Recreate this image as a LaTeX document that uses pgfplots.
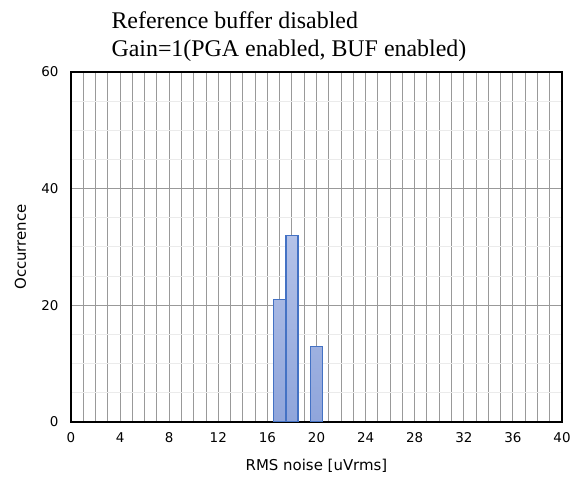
\documentclass[border=0pt]{standalone}
\usepackage{fontspec}
\setmainfont{Liberation Serif}
\newfontfamily\verd{DejaVu Sans}
\usepackage{pgfplots}
\pgfplotsset{compat=1.18}
\definecolor{barline}{HTML}{4472C4}
\definecolor{bartop}{HTML}{B4C2E8}
\definecolor{barbot}{HTML}{8FA5DB}
\begin{document}
\begin{tikzpicture}[x=1bp,y=1bp]
\path[use as bounding box] (-71,-59) rectangle (505,422);
\begin{axis}[
    at={(0,0)}, anchor=south west,
    scale only axis, width=491bp, height=350bp,
    xmin=0, xmax=40, ymin=0, ymax=60,
    xtick={0,4,...,40}, ytick={0,20,40,60},
    minor x tick num=3, minor y tick num=3,
    grid=both,
    major grid style={draw=black!40, line width=1bp},
    minor x grid style={draw=black!40, line width=1bp},
    minor y grid style={draw=black!8, line width=1bp},
    tick style={draw=none},
    axis line style={line width=1.1bp},
    /pgf/number format/assume math mode=true,
    ticklabel style={font=\verd\fontsize{13.5}{15}\selectfont},
    xticklabel style={yshift=-7bp},
    yticklabel style={xshift=-9bp},
    label style={font=\verd\fontsize{15}{18}\selectfont},
    xlabel={RMS noise [uVrms]},
    ylabel={Occurrence},
    xlabel style={at={(axis description cs:0.5,-0.126)}, anchor=center},
    ylabel style={at={(axis description cs:-0.103,0.5)}, anchor=center},
  ]
  \addplot[ybar, bar width=12bp, draw=barline, line width=1.3bp,
    top color=bartop, bottom color=barbot]
    coordinates {(17,21) (18,32) (20,13)};
\end{axis}
\node[anchor=base west, align=left, font=\fontsize{24}{28}\selectfont]
  at (37,393) {Reference buffer disabled};
\node[anchor=base west, align=left, font=\fontsize{24}{28}\selectfont]
  at (37,365) {Gain=1(PGA enabled, BUF enabled)};
\end{tikzpicture}
\end{document}
